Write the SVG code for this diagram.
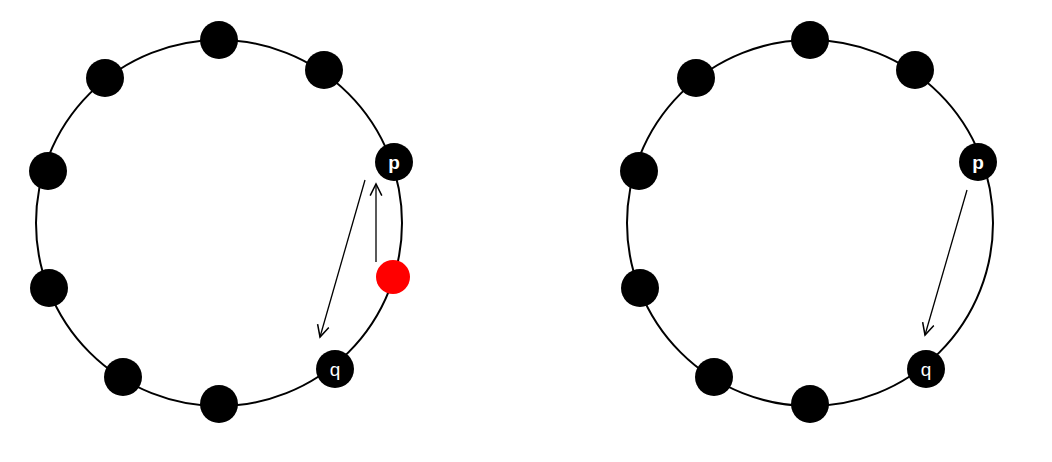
<svg xmlns="http://www.w3.org/2000/svg" width="1052" height="462" viewBox="0 0 1052 462">
<style>
.ring{fill:none;stroke:#000;stroke-width:2}
.n{fill:#000}
.red{fill:#ff0000}
.lbl{fill:#fff;font-family:"Liberation Sans",Arial,sans-serif;font-size:19px;text-anchor:middle}
.b{font-weight:bold}
.arr{stroke:#000;stroke-width:1.3;fill:none;marker-end:url(#ah)}
</style>
<defs>
<marker id="ah" markerWidth="14" markerHeight="14" refX="10" refY="5" orient="auto" markerUnits="userSpaceOnUse" viewBox="0 0 12 10">
<path d="M0,0 L10,5 L0,10" fill="none" stroke="#000" stroke-width="1.3"/>
</marker>
</defs>
<g id="rings">
<circle class="ring" cx="219" cy="223" r="183"/>
<circle class="ring" cx="810" cy="223" r="183"/>
</g>
<g id="left">
<g id="L1"><circle class="n" cx="219" cy="40" r="19"/></g>
<g id="L2"><circle class="n" cx="324" cy="70" r="19"/></g>
<g id="Lp"><circle class="n" cx="394" cy="162" r="19"/><text class="lbl b" x="394" y="169">p</text></g>
<g id="Lred"><circle class="red" cx="393" cy="277" r="17"/></g>
<g id="Lq"><circle class="n" cx="335" cy="369" r="19"/><text class="lbl" x="335" y="376">q</text></g>
<g id="L6"><circle class="n" cx="219" cy="404" r="19"/></g>
<g id="L7"><circle class="n" cx="123" cy="377" r="19"/></g>
<g id="L8"><circle class="n" cx="49" cy="288" r="19"/></g>
<g id="L9"><circle class="n" cx="48" cy="171" r="19"/></g>
<g id="L10"><circle class="n" cx="105" cy="78" r="19"/></g>
</g>
<g id="right">
<g id="R1"><circle class="n" cx="810" cy="40" r="19"/></g>
<g id="R2"><circle class="n" cx="915" cy="70" r="19"/></g>
<g id="Rp"><circle class="n" cx="978" cy="162" r="19"/><text class="lbl b" x="978" y="169">p</text></g>
<g id="Rq"><circle class="n" cx="926" cy="369" r="19"/><text class="lbl" x="926" y="376">q</text></g>
<g id="R6"><circle class="n" cx="810" cy="404" r="19"/></g>
<g id="R7"><circle class="n" cx="714" cy="377" r="19"/></g>
<g id="R8"><circle class="n" cx="640" cy="288" r="19"/></g>
<g id="R9"><circle class="n" cx="639" cy="171" r="19"/></g>
<g id="R10"><circle class="n" cx="696" cy="78" r="19"/></g>
</g>
<g id="connectors">
<line class="arr" x1="365" y1="180" x2="320" y2="337"/>
<line class="arr" x1="376" y1="262" x2="376" y2="184"/>
<line class="arr" x1="967" y1="190" x2="925" y2="335"/>
</g>
</svg>
